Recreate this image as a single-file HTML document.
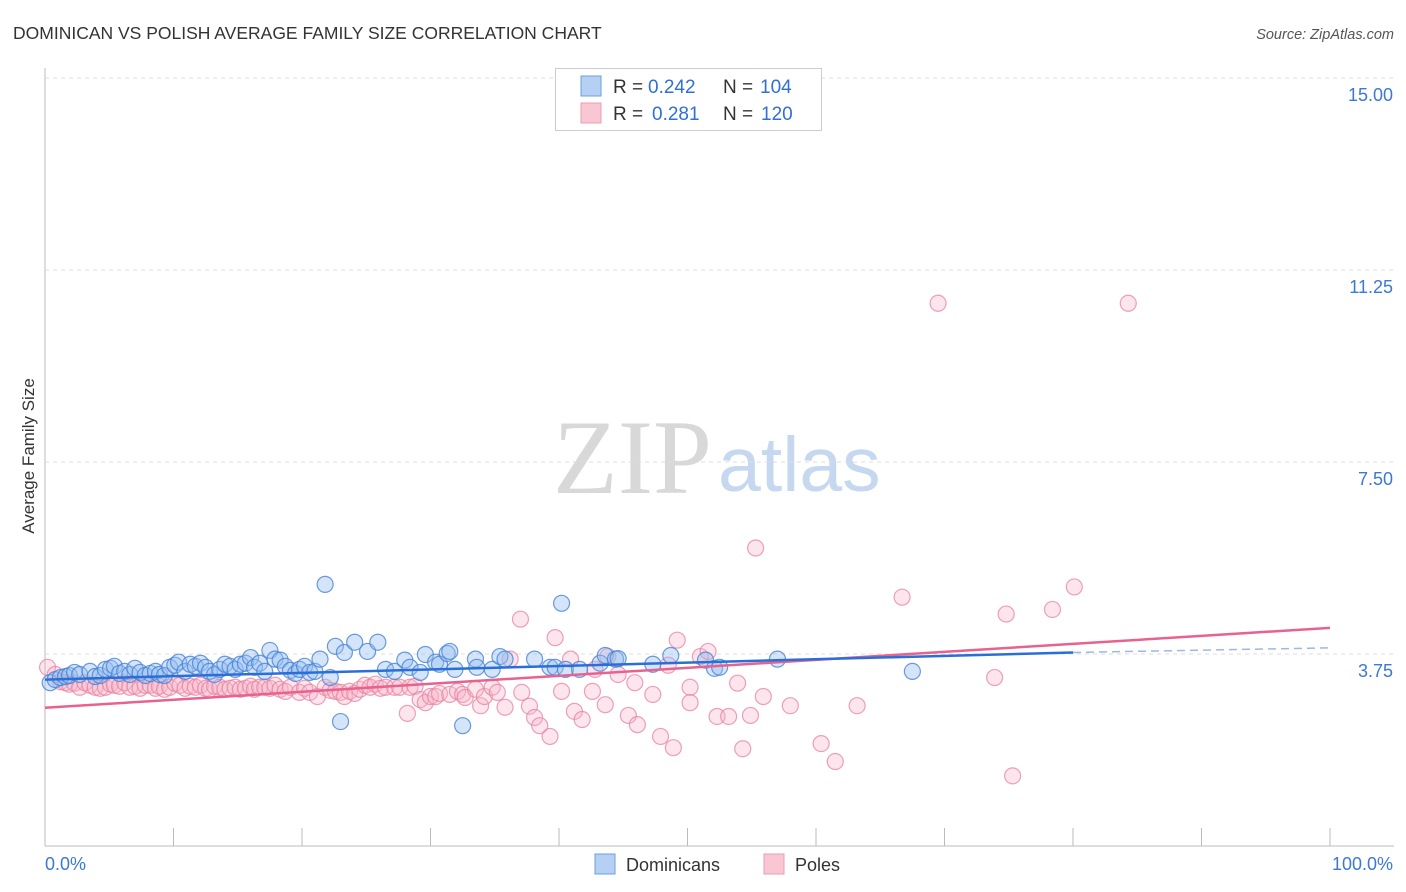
<!DOCTYPE html>
<html><head><meta charset="utf-8">
<style>
body{margin:0;background:#fff;font-family:"Liberation Sans",sans-serif;}
svg{display:block}
</style></head>
<body>
<svg id="chart" width="1406" height="892">
<text x="13" y="39" font-size="17.5" fill="#333">DOMINICAN VS POLISH AVERAGE FAMILY SIZE CORRELATION CHART</text>
<text x="1394" y="39" font-size="14.5" fill="#555" font-style="italic" text-anchor="end">Source: ZipAtlas.com</text>
<text x="553" y="493" font-size="106" fill="#d8d8d8" font-family="Liberation Serif,serif">ZIP</text>
<text x="718" y="491" font-size="77" fill="#c5d8ef">atlas</text>
<text transform="translate(34,456) rotate(-90)" font-size="17" fill="#333" text-anchor="middle">Average Family Size</text>
<g id="grid"></g><g id="pts"></g><g id="lines"></g>
<g>
<rect x="555.5" y="68.5" width="266" height="62" fill="#fff" stroke="#ccc"/>
<rect x="581" y="76" width="20" height="20" fill="#b5d0f3" stroke="#6d9fe0"/>
<rect x="581" y="103" width="20" height="20" fill="#f9c7d4" stroke="#ea9db4"/>
<text y="93" font-size="19"><tspan x="613" fill="#333">R = </tspan><tspan x="648" fill="#2f6fd6">0.242</tspan><tspan x="723" fill="#333">N = </tspan><tspan x="760" fill="#2f6fd6">104</tspan></text>
<text y="120" font-size="19"><tspan x="613" fill="#333">R = </tspan><tspan x="652" fill="#2f6fd6">0.281</tspan><tspan x="723" fill="#333">N = </tspan><tspan x="761" fill="#2f6fd6">120</tspan></text>
</g>
<g>
<rect x="595" y="854" width="20" height="20" fill="#b5d0f3" stroke="#6d9fe0"/>
<text x="626" y="871" font-size="18" fill="#333">Dominicans</text>
<rect x="764" y="854" width="20" height="20" fill="#f9c7d4" stroke="#ea9db4"/>
<text x="795" y="871" font-size="18" fill="#333">Poles</text>
</g>
</svg>
<script>
const yTicks=[3.75,7.5,11.25,15];
const yTickLabels=["3.75","7.50","11.25","15.00"];
const xTickLabels=["0.0%","100.0%"];
const domX=[0.4,0.8,1.2,1.6,1.9,2.3,2.7,3.5,3.9,4.3,4.7,5.1,5.4,5.8,6.2,6.6,7.0,7.4,7.8,8.2,8.6,8.9,9.3,9.7,10.1,10.4,10.9,11.3,11.7,12.1,12.5,12.8,13.2,13.6,14.0,14.4,14.8,15.2,15.6,16.0,16.3,16.7,17.1,17.5,17.9,18.3,18.7,19.1,19.5,19.8,20.2,20.6,21.0,21.4,21.8,22.2,22.6,23.0,23.3,24.1,25.1,25.9,26.5,27.2,28.0,28.4,29.2,29.6,30.4,30.7,31.3,31.5,31.9,32.5,33.5,33.6,34.8,35.4,35.8,38.1,39.3,39.7,40.2,40.5,41.6,43.2,43.6,44.4,44.6,47.3,48.7,51.4,52.1,52.5,57.0,67.5];
const domY=[3.19,3.25,3.29,3.31,3.33,3.39,3.35,3.41,3.31,3.33,3.45,3.47,3.51,3.37,3.41,3.35,3.47,3.39,3.33,3.37,3.41,3.35,3.33,3.49,3.53,3.59,3.41,3.55,3.51,3.57,3.49,3.41,3.35,3.45,3.55,3.51,3.45,3.55,3.57,3.68,3.49,3.57,3.41,3.82,3.65,3.63,3.51,3.43,3.37,3.45,3.51,3.39,3.41,3.65,5.11,3.29,3.90,2.43,3.78,3.98,3.80,3.98,3.45,3.41,3.63,3.49,3.39,3.74,3.59,3.55,3.76,3.80,3.45,2.35,3.65,3.49,3.45,3.70,3.65,3.65,3.49,3.49,4.74,3.45,3.45,3.57,3.72,3.65,3.66,3.55,3.72,3.63,3.47,3.49,3.65,3.41];
const polX=[0.2,0.8,1.2,1.6,1.9,2.3,2.7,3.1,3.5,3.9,4.3,4.7,5.1,5.4,5.8,6.2,6.6,7.0,7.4,7.8,8.2,8.6,8.9,9.3,9.7,10.1,10.5,10.9,11.3,11.7,12.1,12.5,12.8,13.2,13.6,14.0,14.4,14.8,15.2,15.6,16.0,16.3,16.7,17.1,17.5,17.9,18.3,18.7,19.1,19.8,20.2,20.6,21.2,21.8,22.2,22.6,23.0,23.3,23.7,24.1,24.5,24.9,25.3,25.7,26.1,26.5,27.2,27.6,28.2,28.4,28.8,29.2,29.6,30.0,30.4,30.7,31.5,32.1,32.5,32.7,33.5,33.9,34.2,34.8,35.2,35.8,36.2,37.0,37.1,37.7,38.1,38.5,39.3,39.7,40.2,40.9,41.2,41.8,42.6,42.8,43.6,43.8,44.6,45.4,45.9,46.1,47.3,47.9,48.5,48.9,49.2,50.2,50.2,51.0,51.6,52.3,53.2,53.9,54.3,54.9,55.3,55.9,58.0,60.4,61.5,63.2,66.7,69.5,73.9,74.8,75.3,78.4,80.1,84.3];
const polY=[3.49,3.35,3.21,3.19,3.16,3.18,3.10,3.19,3.14,3.10,3.08,3.10,3.16,3.14,3.12,3.19,3.10,3.12,3.08,3.14,3.14,3.08,3.12,3.06,3.10,3.18,3.14,3.08,3.12,3.10,3.14,3.08,3.06,3.12,3.10,3.06,3.08,3.10,3.06,3.08,3.12,3.06,3.10,3.10,3.08,3.14,3.06,3.02,3.10,3.00,3.08,3.00,2.92,3.10,3.04,3.02,3.00,2.92,3.02,2.98,3.06,3.14,3.10,3.16,3.08,3.10,3.10,3.10,2.59,3.10,3.12,2.86,2.80,2.92,2.92,2.98,2.96,3.02,2.96,2.90,3.06,2.74,2.92,3.10,3.00,2.71,3.65,4.43,3.00,2.73,2.51,2.35,2.14,4.07,3.02,3.65,2.63,2.47,3.02,3.45,2.76,3.70,3.35,2.55,3.19,2.37,2.96,2.14,3.53,1.92,4.02,3.10,2.80,3.70,3.80,2.53,2.53,3.18,1.90,2.55,5.82,2.92,2.74,2.00,1.65,2.74,4.86,10.60,3.29,4.53,1.37,4.62,5.06,10.60];
const domTrend=[3.25,3.78,3.87]; // at x=0, 80, 100
const polTrend=[2.70,4.26]; // at x=0, 100

const NS="http://www.w3.org/2000/svg";
const X=v=>45+v/100*1285;
const Y=v=>846-v*51.2;
function mk(tag,attrs,parent){const e=document.createElementNS(NS,tag);for(const k in attrs)e.setAttribute(k,attrs[k]);parent.appendChild(e);return e;}
const grid=document.getElementById('grid'),pts=document.getElementById('pts'),lines=document.getElementById('lines');
let ax=mk('line',{x1:45,y1:68,x2:45,y2:846,stroke:'#bbb'},grid);


let bx=mk('line',{x1:45,y1:846,x2:1394,y2:846,stroke:'#bbb'},grid);


for(let i=0;i<=10;i++){const t=mk('line',{x1:X(i*10),y1:828,x2:X(i*10),y2:846,stroke:'#bbb'},grid);

}
yTicks.forEach((v,i)=>{
const g=mk('line',{x1:45,y1:Y(v),x2:1394,y2:Y(v),stroke:'#ddd','stroke-dasharray':'4,4'},grid);


const t=mk('text',{x:1393,y:Y(v)+23,'font-size':18,fill:'#3b78d8','text-anchor':'end'},grid);t.textContent=yTickLabels[i];


});
const xl0=mk('text',{x:45,y:870,'font-size':18,fill:'#3b78d8'},grid);xl0.textContent=xTickLabels[0];


const xl1=mk('text',{x:1393,y:870,'font-size':18,fill:'#3b78d8','text-anchor':'end'},grid);xl1.textContent=xTickLabels[1];


polX.forEach((x,i)=>{const c=mk('circle',{cx:X(x),cy:Y(polY[i]),r:8,fill:'rgba(247,180,200,0.35)',stroke:'rgba(232,130,162,0.75)','stroke-width':1.2},pts);

});
domX.forEach((x,i)=>{const c=mk('circle',{cx:X(x),cy:Y(domY[i]),r:8,fill:'rgba(150,190,240,0.4)',stroke:'rgba(70,130,215,0.8)','stroke-width':1.2},pts);

});
const pl=mk('line',{x1:X(0),y1:Y(polTrend[0]),x2:X(100),y2:Y(polTrend[1]),stroke:'#e8628f','stroke-width':2.5},lines);


const bl=mk('line',{x1:X(0),y1:Y(domTrend[0]),x2:X(80),y2:Y(domTrend[1]),stroke:'#2a6fd8','stroke-width':2.5},lines);


const bd=mk('line',{x1:X(80),y1:Y(domTrend[1]),x2:X(100),y2:Y(domTrend[2]),stroke:'#9bb9e6','stroke-width':1.5,'stroke-dasharray':'8,5'},lines);


</script>
</body></html>
